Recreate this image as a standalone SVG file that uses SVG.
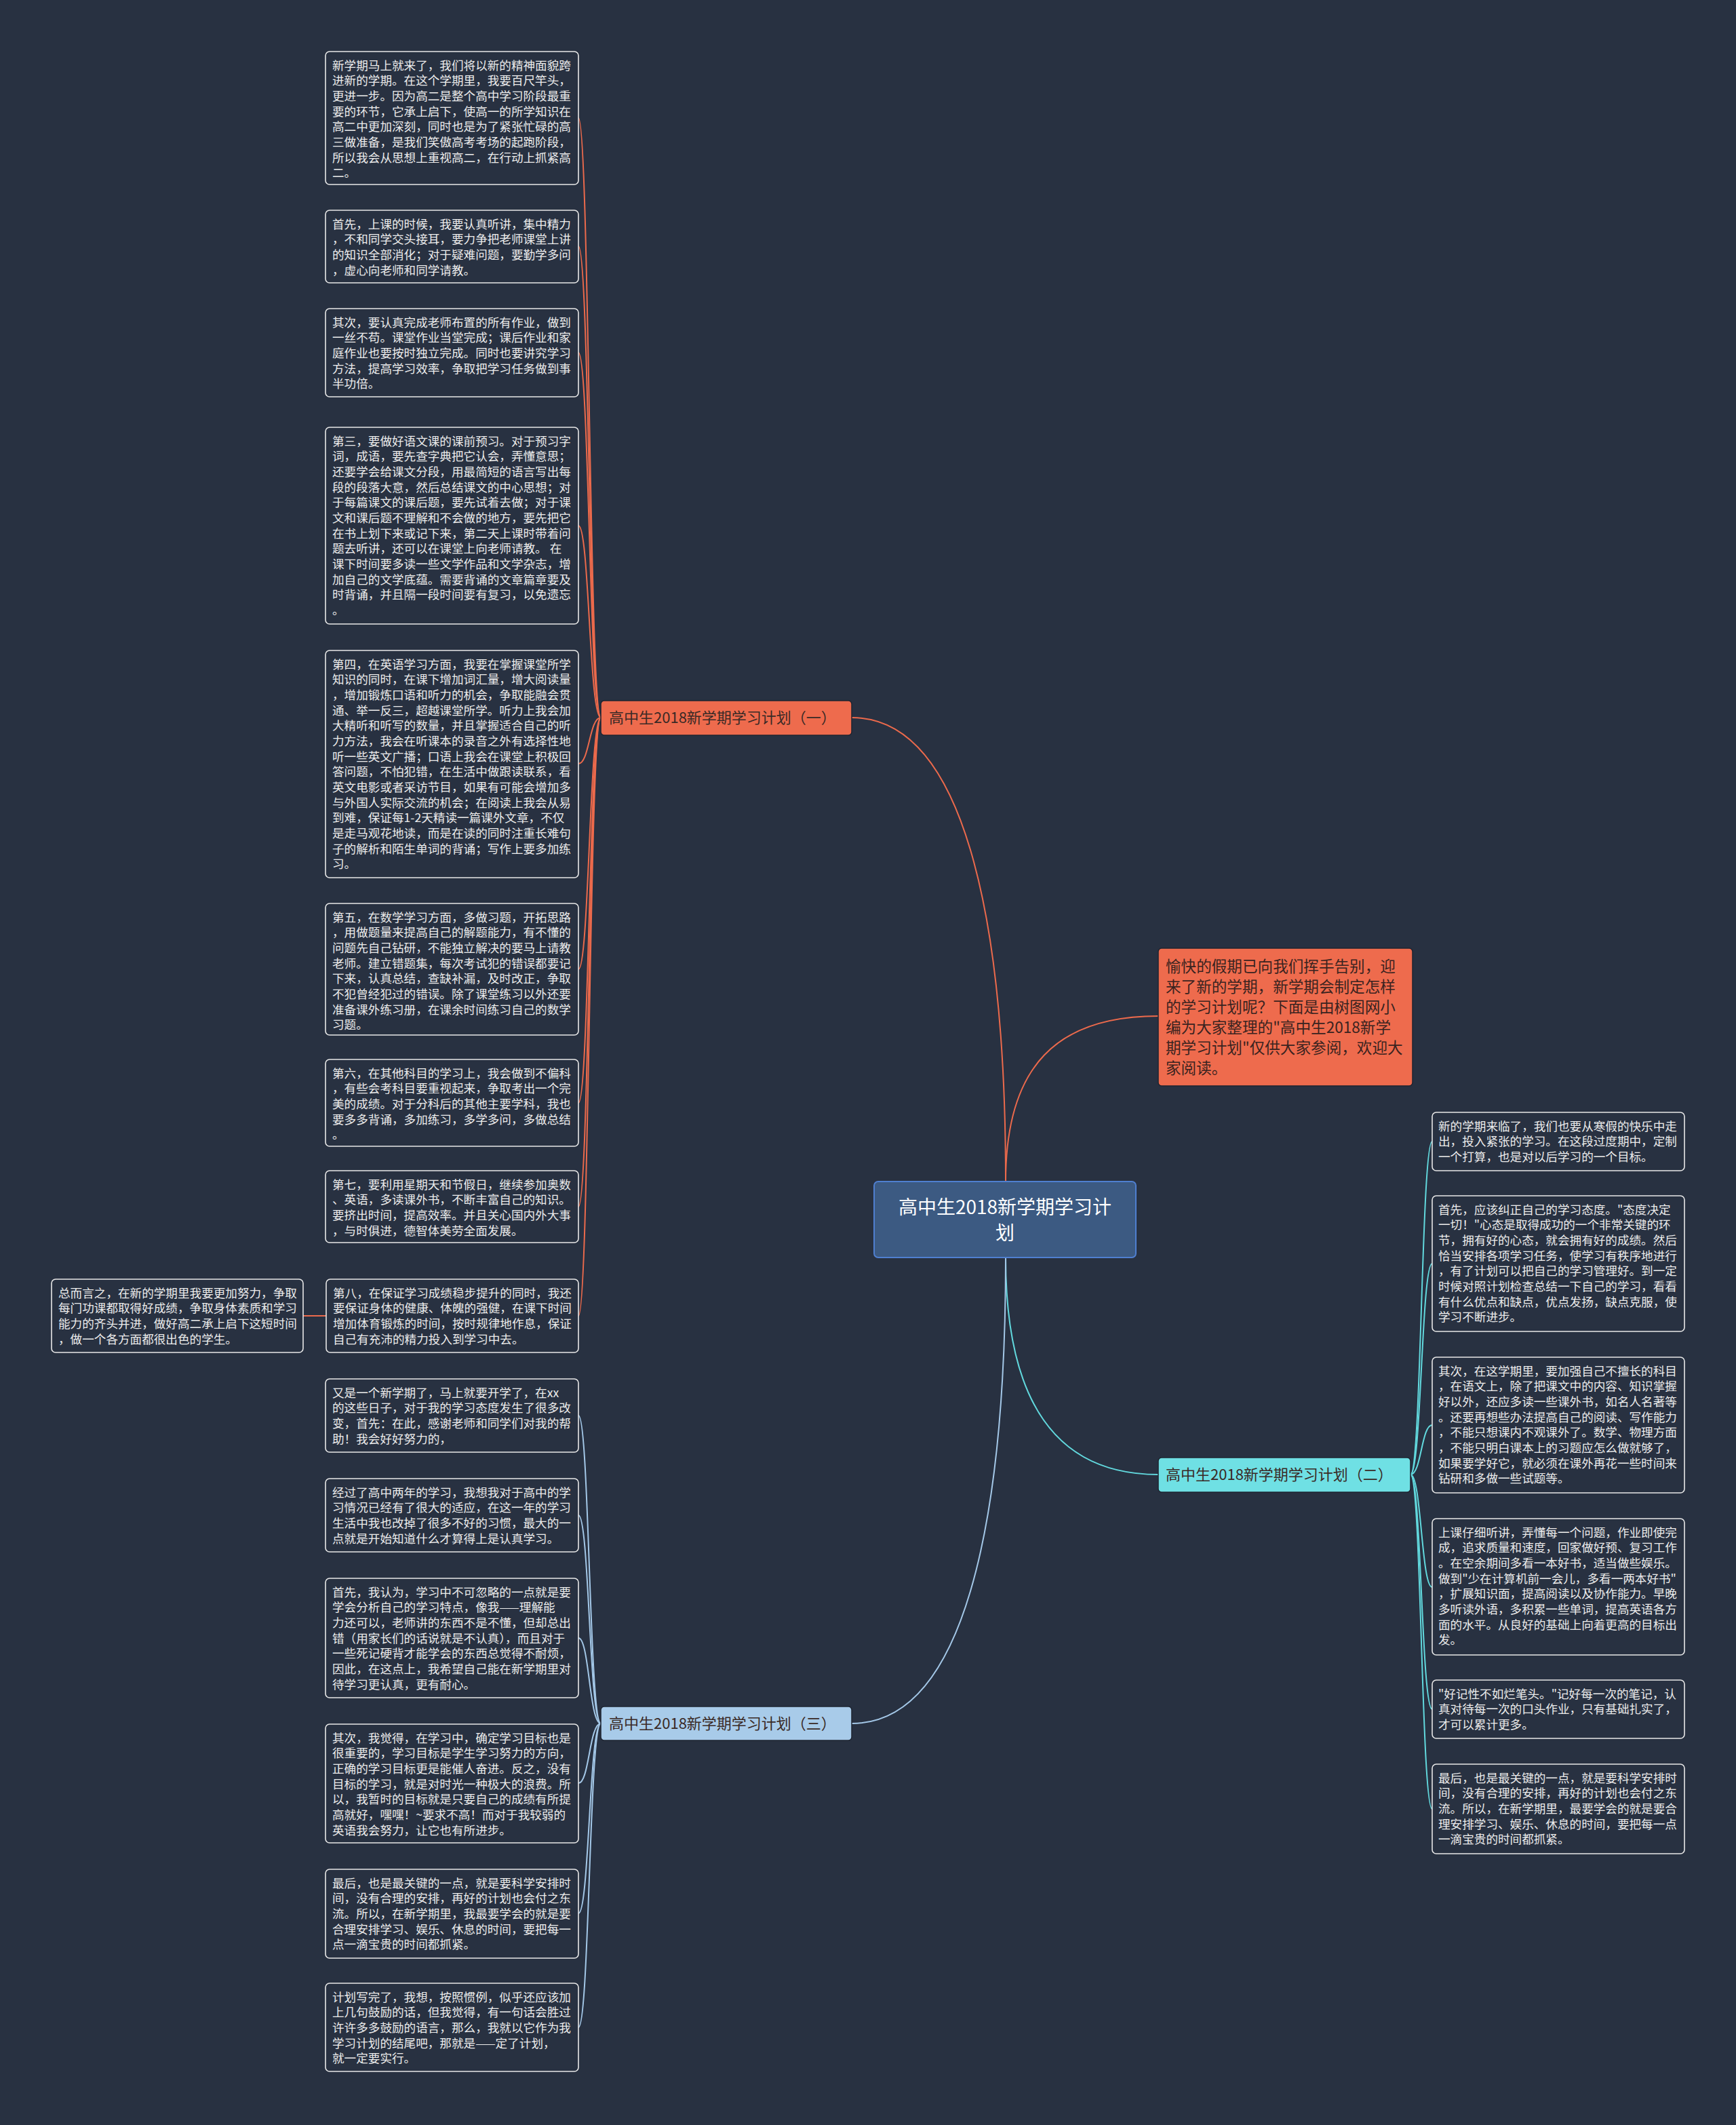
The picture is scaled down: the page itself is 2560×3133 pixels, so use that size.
<svg xmlns="http://www.w3.org/2000/svg" width="2560" height="3133" viewBox="0 0 2560 3133">
<style>
.bg{fill:#283141}
.box{fill:#283141;stroke:#e8e8e8;stroke-width:1.6}
.t{font-family:"Noto Sans CJK SC","Noto Sans",sans-serif;font-size:17.6px;fill:#ececec}
.lt{font-family:"Noto Sans CJK SC","Noto Sans",sans-serif;font-size:22px;fill:#3a2a26}
.it{font-family:"Noto Sans CJK SC","Noto Sans",sans-serif;font-size:22.6px;fill:#3a2320}
.ct{font-family:"Noto Sans CJK SC","Noto Sans",sans-serif;font-size:28px;fill:#ffffff}
.c1{fill:none;stroke:#ec6a4c;stroke-width:2}
.c2{fill:none;stroke:#62d9de;stroke-width:2}
.c3{fill:none;stroke:#a4c8e8;stroke-width:2}
</style>
<rect class="bg" x="0" y="0" width="2560" height="3133"/>

<g id="connectors">
  <path class="c1" stroke-width="3" d="M1483,1742 C1483,1350 1420,1058 1256,1058"/>
  <path class="c1" stroke-width="3" d="M1483,1742 C1483,1570 1560,1498 1708,1498"/>
  <path class="c2" stroke-width="3" d="M1483,1854 C1483,2070 1560,2174 1708,2174"/>
  <path class="c3" stroke-width="3" d="M1483,1854 C1483,2250 1420,2541 1256,2541"/>
  <!-- branch 1 children -->
  <path class="c1" d="M886,1058 C869,1058 869,174 853,174"/>
  <path class="c1" d="M886,1058 C869,1058 869,363 853,363"/>
  <path class="c1" d="M886,1058 C869,1058 869,520 853,520"/>
  <path class="c1" d="M886,1058 C869,1058 869,775 853,775"/>
  <path class="c1" d="M886,1058 C869,1058 869,1126 853,1126"/>
  <path class="c1" d="M886,1058 C869,1058 869,1429 853,1429"/>
  <path class="c1" d="M886,1058 C869,1058 869,1626 853,1626"/>
  <path class="c1" d="M886,1058 C869,1058 869,1779 853,1779"/>
  <path class="c1" d="M886,1058 C869,1058 869,1940 853,1940"/>
  <path class="c1" d="M481,1940 L447,1940"/>
  <!-- branch 3 children -->
  <path class="c3" d="M886,2541 C869,2541 869,2087 853,2087"/>
  <path class="c3" d="M886,2541 C869,2541 869,2234 853,2234"/>
  <path class="c3" d="M886,2541 C869,2541 869,2415 853,2415"/>
  <path class="c3" d="M886,2541 C869,2541 869,2629 853,2629"/>
  <path class="c3" d="M886,2541 C869,2541 869,2821 853,2821"/>
  <path class="c3" d="M886,2541 C869,2541 869,2989 853,2989"/>
  <!-- branch 2 children -->
  <path class="c2" d="M2080,2174 C2096,2174 2096,1683 2112,1683"/>
  <path class="c2" d="M2080,2174 C2096,2174 2096,1863 2112,1863"/>
  <path class="c2" d="M2080,2174 C2096,2174 2096,2101 2112,2101"/>
  <path class="c2" d="M2080,2174 C2096,2174 2096,2340 2112,2340"/>
  <path class="c2" d="M2080,2174 C2096,2174 2096,2520 2112,2520"/>
  <path class="c2" d="M2080,2174 C2096,2174 2096,2667 2112,2667"/>
</g>

<g id="center">
  <rect x="1289" y="1742" width="386" height="112" rx="6" fill="#3c5a82" stroke="#4f7fd0" stroke-width="2"/>
  <text class="ct" x="1482" y="1790" text-anchor="middle">高中生2018新学期学习计</text>
  <text class="ct" x="1482" y="1828" text-anchor="middle">划</text>
</g>

<g id="branch1">
  <rect x="886" y="1033" width="370" height="51" rx="5" fill="#ee6b4d" stroke="#1e2430" stroke-width="1.5"/>
  <text class="lt" x="898" y="1066">高中生2018新学期学习计划（一）</text>
</g>
<g id="branch2">
  <rect x="1708" y="2149" width="372" height="51" rx="5" fill="#6fe0e4" stroke="#1e2430" stroke-width="1.5"/>
  <text class="lt" x="1719" y="2182">高中生2018新学期学习计划（二）</text>
</g>
<g id="branch3">
  <rect x="886" y="2516" width="370" height="50" rx="5" fill="#a8cbe9" stroke="#1e2430" stroke-width="1.5"/>
  <text class="lt" x="898" y="2549">高中生2018新学期学习计划（三）</text>
</g>

<g id="intro">
  <rect x="1708" y="1398" width="375" height="203" rx="5" fill="#ee6b4d" stroke="#1e2430" stroke-width="1.5"/>
  <text class="it" x="1719" y="1433"><tspan x="1719">愉快的假期已向我们挥手告别，迎</tspan><tspan x="1719" dy="30">来了新的学期，新学期会制定怎样</tspan><tspan x="1719" dy="30">的学习计划呢？下面是由树图网小</tspan><tspan x="1719" dy="30">编为大家整理的"高中生2018新学</tspan><tspan x="1719" dy="30">期学习计划"仅供大家参阅，欢迎大</tspan><tspan x="1719" dy="30">家阅读。</tspan></text>
</g>

<g id="n1">
  <rect class="box" x="480" y="76" width="373" height="196" rx="6"/>
  <text class="t" y="102.5"><tspan x="490">新学期马上就来了，我们将以新的精神面貌跨</tspan><tspan x="490" dy="22.67">进新的学期。在这个学期里，我要百尺竿头，</tspan><tspan x="490" dy="22.67">更进一步。因为高二是整个高中学习阶段最重</tspan><tspan x="490" dy="22.67">要的环节，它承上启下，使高一的所学知识在</tspan><tspan x="490" dy="22.67">高二中更加深刻，同时也是为了紧张忙碌的高</tspan><tspan x="490" dy="22.67">三做准备，是我们笑傲高考考场的起跑阶段，</tspan><tspan x="490" dy="22.67">所以我会从思想上重视高二，在行动上抓紧高</tspan><tspan x="490" dy="22.67">二。</tspan></text>
</g>
<g id="n2">
  <rect class="box" x="480" y="310" width="373" height="107" rx="6"/>
  <text class="t" y="336.5"><tspan x="490">首先，上课的时候，我要认真听讲，集中精力</tspan><tspan x="490" dy="22.67">，不和同学交头接耳，要力争把老师课堂上讲</tspan><tspan x="490" dy="22.67">的知识全部消化；对于疑难问题，要勤学多问</tspan><tspan x="490" dy="22.67">，虚心向老师和同学请教。</tspan></text>
</g>
<g id="n3">
  <rect class="box" x="480" y="455" width="373" height="130" rx="6"/>
  <text class="t" y="481.5"><tspan x="490">其次，要认真完成老师布置的所有作业，做到</tspan><tspan x="490" dy="22.67">一丝不苟。课堂作业当堂完成；课后作业和家</tspan><tspan x="490" dy="22.67">庭作业也要按时独立完成。同时也要讲究学习</tspan><tspan x="490" dy="22.67">方法，提高学习效率，争取把学习任务做到事</tspan><tspan x="490" dy="22.67">半功倍。</tspan></text>
</g>
<g id="n4">
  <rect class="box" x="480" y="630" width="373" height="290" rx="6"/>
  <text class="t" y="656.5"><tspan x="490">第三，要做好语文课的课前预习。对于预习字</tspan><tspan x="490" dy="22.67">词，成语，要先查字典把它认会，弄懂意思；</tspan><tspan x="490" dy="22.67">还要学会给课文分段，用最简短的语言写出每</tspan><tspan x="490" dy="22.67">段的段落大意，然后总结课文的中心思想；对</tspan><tspan x="490" dy="22.67">于每篇课文的课后题，要先试着去做；对于课</tspan><tspan x="490" dy="22.67">文和课后题不理解和不会做的地方，要先把它</tspan><tspan x="490" dy="22.67">在书上划下来或记下来，第二天上课时带着问</tspan><tspan x="490" dy="22.67">题去听讲，还可以在课堂上向老师请教。 在</tspan><tspan x="490" dy="22.67">课下时间要多读一些文学作品和文学杂志，增</tspan><tspan x="490" dy="22.67">加自己的文学底蕴。需要背诵的文章篇章要及</tspan><tspan x="490" dy="22.67">时背诵，并且隔一段时间要有复习，以免遗忘</tspan><tspan x="490" dy="22.67">。</tspan></text>
</g>
<g id="n5">
  <rect class="box" x="480" y="959" width="373" height="335" rx="6"/>
  <text class="t" y="985.5"><tspan x="490">第四，在英语学习方面，我要在掌握课堂所学</tspan><tspan x="490" dy="22.67">知识的同时，在课下增加词汇量，增大阅读量</tspan><tspan x="490" dy="22.67">，增加锻炼口语和听力的机会，争取能融会贯</tspan><tspan x="490" dy="22.67">通、举一反三，超越课堂所学。听力上我会加</tspan><tspan x="490" dy="22.67">大精听和听写的数量，并且掌握适合自己的听</tspan><tspan x="490" dy="22.67">力方法，我会在听课本的录音之外有选择性地</tspan><tspan x="490" dy="22.67">听一些英文广播；口语上我会在课堂上积极回</tspan><tspan x="490" dy="22.67">答问题，不怕犯错，在生活中做跟读联系，看</tspan><tspan x="490" dy="22.67">英文电影或者采访节目，如果有可能会增加多</tspan><tspan x="490" dy="22.67">与外国人实际交流的机会；在阅读上我会从易</tspan><tspan x="490" dy="22.67">到难，保证每1-2天精读一篇课外文章，不仅</tspan><tspan x="490" dy="22.67">是走马观花地读，而是在读的同时注重长难句</tspan><tspan x="490" dy="22.67">子的解析和陌生单词的背诵；写作上要多加练</tspan><tspan x="490" dy="22.67">习。</tspan></text>
</g>
<g id="n6">
  <rect class="box" x="480" y="1332" width="373" height="194" rx="6"/>
  <text class="t" y="1358.5"><tspan x="490">第五，在数学学习方面，多做习题，开拓思路</tspan><tspan x="490" dy="22.67">，用做题量来提高自己的解题能力，有不懂的</tspan><tspan x="490" dy="22.67">问题先自己钻研，不能独立解决的要马上请教</tspan><tspan x="490" dy="22.67">老师。建立错题集，每次考试犯的错误都要记</tspan><tspan x="490" dy="22.67">下来，认真总结，查缺补漏，及时改正，争取</tspan><tspan x="490" dy="22.67">不犯曾经犯过的错误。除了课堂练习以外还要</tspan><tspan x="490" dy="22.67">准备课外练习册，在课余时间练习自己的数学</tspan><tspan x="490" dy="22.67">习题。</tspan></text>
</g>
<g id="n7">
  <rect class="box" x="480" y="1562" width="373" height="128" rx="6"/>
  <text class="t" y="1588.5"><tspan x="490">第六，在其他科目的学习上，我会做到不偏科</tspan><tspan x="490" dy="22.67">，有些会考科目要重视起来，争取考出一个完</tspan><tspan x="490" dy="22.67">美的成绩。对于分科后的其他主要学科，我也</tspan><tspan x="490" dy="22.67">要多多背诵，多加练习，多学多问，多做总结</tspan><tspan x="490" dy="22.67">。</tspan></text>
</g>
<g id="n8">
  <rect class="box" x="480" y="1726" width="373" height="106" rx="6"/>
  <text class="t" y="1752.5"><tspan x="490">第七，要利用星期天和节假日，继续参加奥数</tspan><tspan x="490" dy="22.67">、英语，多读课外书，不断丰富自己的知识。</tspan><tspan x="490" dy="22.67">要挤出时间，提高效率。并且关心国内外大事</tspan><tspan x="490" dy="22.67">，与时俱进，德智体美劳全面发展。</tspan></text>
</g>
<g id="n9">
  <rect class="box" x="481" y="1886" width="372" height="108" rx="6"/>
  <text class="t" y="1912.5"><tspan x="491">第八，在保证学习成绩稳步提升的同时，我还</tspan><tspan x="491" dy="22.67">要保证身体的健康、体魄的强健，在课下时间</tspan><tspan x="491" dy="22.67">增加体育锻炼的时间，按时规律地作息，保证</tspan><tspan x="491" dy="22.67">自己有充沛的精力投入到学习中去。</tspan></text>
</g>
<g id="n9a">
  <rect class="box" x="76" y="1886" width="371" height="108" rx="6"/>
  <text class="t" y="1912.5"><tspan x="86">总而言之，在新的学期里我要更加努力，争取</tspan><tspan x="86" dy="22.67">每门功课都取得好成绩，争取身体素质和学习</tspan><tspan x="86" dy="22.67">能力的齐头并进，做好高二承上启下这短时间</tspan><tspan x="86" dy="22.67">，做一个各方面都很出色的学生。</tspan></text>
</g>

<g id="n10">
  <rect class="box" x="480" y="2033" width="373" height="108" rx="6"/>
  <text class="t" y="2059.5"><tspan x="490">又是一个新学期了，马上就要开学了，在xx</tspan><tspan x="490" dy="22.67">的这些日子，对于我的学习态度发生了很多改</tspan><tspan x="490" dy="22.67">变，首先：在此，感谢老师和同学们对我的帮</tspan><tspan x="490" dy="22.67">助！我会好好努力的，</tspan></text>
</g>
<g id="n11">
  <rect class="box" x="480" y="2180" width="373" height="108" rx="6"/>
  <text class="t" y="2206.5"><tspan x="490">经过了高中两年的学习，我想我对于高中的学</tspan><tspan x="490" dy="22.67">习情况已经有了很大的适应，在这一年的学习</tspan><tspan x="490" dy="22.67">生活中我也改掉了很多不好的习惯，最大的一</tspan><tspan x="490" dy="22.67">点就是开始知道什么才算得上是认真学习。</tspan></text>
</g>
<g id="n12">
  <rect class="box" x="480" y="2327" width="373" height="176" rx="6"/>
  <text class="t" y="2353.5"><tspan x="490">首先，我认为，学习中不可忽略的一点就是要</tspan><tspan x="490" dy="22.67">学会分析自己的学习特点，像我——理解能</tspan><tspan x="490" dy="22.67">力还可以，老师讲的东西不是不懂，但却总出</tspan><tspan x="490" dy="22.67">错（用家长们的话说就是不认真），而且对于</tspan><tspan x="490" dy="22.67">一些死记硬背才能学会的东西总觉得不耐烦，</tspan><tspan x="490" dy="22.67">因此，在这点上，我希望自己能在新学期里对</tspan><tspan x="490" dy="22.67">待学习更认真，更有耐心。</tspan></text>
</g>
<g id="n13">
  <rect class="box" x="480" y="2542" width="373" height="175" rx="6"/>
  <text class="t" y="2568.5"><tspan x="490">其次，我觉得，在学习中，确定学习目标也是</tspan><tspan x="490" dy="22.67">很重要的，学习目标是学生学习努力的方向，</tspan><tspan x="490" dy="22.67">正确的学习目标更是能催人奋进。反之，没有</tspan><tspan x="490" dy="22.67">目标的学习，就是对时光一种极大的浪费。所</tspan><tspan x="490" dy="22.67">以，我暂时的目标就是只要自己的成绩有所提</tspan><tspan x="490" dy="22.67">高就好，嘿嘿！~要求不高！而对于我较弱的</tspan><tspan x="490" dy="22.67">英语我会努力，让它也有所进步。</tspan></text>
</g>
<g id="n14">
  <rect class="box" x="480" y="2756" width="373" height="131" rx="6"/>
  <text class="t" y="2782.5"><tspan x="490">最后，也是最关键的一点，就是要科学安排时</tspan><tspan x="490" dy="22.67">间，没有合理的安排，再好的计划也会付之东</tspan><tspan x="490" dy="22.67">流。所以，在新学期里，我最要学会的就是要</tspan><tspan x="490" dy="22.67">合理安排学习、娱乐、休息的时间，要把每一</tspan><tspan x="490" dy="22.67">点一滴宝贵的时间都抓紧。</tspan></text>
</g>
<g id="n15">
  <rect class="box" x="480" y="2924" width="373" height="130" rx="6"/>
  <text class="t" y="2950.5"><tspan x="490">计划写完了，我想，按照惯例，似乎还应该加</tspan><tspan x="490" dy="22.67">上几句鼓励的话，但我觉得，有一句话会胜过</tspan><tspan x="490" dy="22.67">许许多多鼓励的语言，那么，我就以它作为我</tspan><tspan x="490" dy="22.67">学习计划的结尾吧，那就是——定了计划，</tspan><tspan x="490" dy="22.67">就一定要实行。</tspan></text>
</g>

<g id="r1">
  <rect class="box" x="2112" y="1640" width="372" height="86" rx="6"/>
  <text class="t" y="1666.5"><tspan x="2121">新的学期来临了，我们也要从寒假的快乐中走</tspan><tspan x="2121" dy="22.67">出，投入紧张的学习。在这段过度期中，定制</tspan><tspan x="2121" dy="22.67">一个打算，也是对以后学习的一个目标。</tspan></text>
</g>
<g id="r2">
  <rect class="box" x="2112" y="1763" width="372" height="200" rx="6"/>
  <text class="t" y="1789.5"><tspan x="2121">首先，应该纠正自己的学习态度。"态度决定</tspan><tspan x="2121" dy="22.67">一切！"心态是取得成功的一个非常关键的环</tspan><tspan x="2121" dy="22.67">节，拥有好的心态，就会拥有好的成绩。然后</tspan><tspan x="2121" dy="22.67">恰当安排各项学习任务，使学习有秩序地进行</tspan><tspan x="2121" dy="22.67">，有了计划可以把自己的学习管理好。到一定</tspan><tspan x="2121" dy="22.67">时候对照计划检查总结一下自己的学习，看看</tspan><tspan x="2121" dy="22.67">有什么优点和缺点，优点发扬，缺点克服，使</tspan><tspan x="2121" dy="22.67">学习不断进步。</tspan></text>
</g>
<g id="r3">
  <rect class="box" x="2112" y="2001" width="372" height="200" rx="6"/>
  <text class="t" y="2027.5"><tspan x="2121">其次，在这学期里，要加强自己不擅长的科目</tspan><tspan x="2121" dy="22.67">，在语文上，除了把课文中的内容、知识掌握</tspan><tspan x="2121" dy="22.67">好以外，还应多读一些课外书，如名人名著等</tspan><tspan x="2121" dy="22.67">。还要再想些办法提高自己的阅读、写作能力</tspan><tspan x="2121" dy="22.67">，不能只想课内不观课外了。数学、物理方面</tspan><tspan x="2121" dy="22.67">，不能只明白课本上的习题应怎么做就够了，</tspan><tspan x="2121" dy="22.67">如果要学好它，就必须在课外再花一些时间来</tspan><tspan x="2121" dy="22.67">钻研和多做一些试题等。</tspan></text>
</g>
<g id="r4">
  <rect class="box" x="2112" y="2239" width="372" height="201" rx="6"/>
  <text class="t" y="2265.5"><tspan x="2121">上课仔细听讲，弄懂每一个问题，作业即使完</tspan><tspan x="2121" dy="22.67">成，追求质量和速度，回家做好预、复习工作</tspan><tspan x="2121" dy="22.67">。在空余期间多看一本好书，适当做些娱乐。</tspan><tspan x="2121" dy="22.67">做到"少在计算机前一会儿，多看一两本好书"</tspan><tspan x="2121" dy="22.67">，扩展知识面，提高阅读以及协作能力。早晚</tspan><tspan x="2121" dy="22.67">多听读外语，多积累一些单词，提高英语各方</tspan><tspan x="2121" dy="22.67">面的水平。从良好的基础上向着更高的目标出</tspan><tspan x="2121" dy="22.67">发。</tspan></text>
</g>
<g id="r5">
  <rect class="box" x="2112" y="2477" width="372" height="86" rx="6"/>
  <text class="t" y="2503.5"><tspan x="2121">"好记性不如烂笔头。"记好每一次的笔记，认</tspan><tspan x="2121" dy="22.67">真对待每一次的口头作业，只有基础扎实了，</tspan><tspan x="2121" dy="22.67">才可以累计更多。</tspan></text>
</g>
<g id="r6">
  <rect class="box" x="2112" y="2601" width="372" height="132" rx="6"/>
  <text class="t" y="2627.5"><tspan x="2121">最后，也是最关键的一点，就是要科学安排时</tspan><tspan x="2121" dy="22.67">间，没有合理的安排，再好的计划也会付之东</tspan><tspan x="2121" dy="22.67">流。所以，在新学期里，最要学会的就是要合</tspan><tspan x="2121" dy="22.67">理安排学习、娱乐、休息的时间，要把每一点</tspan><tspan x="2121" dy="22.67">一滴宝贵的时间都抓紧。</tspan></text>
</g>
</svg>
